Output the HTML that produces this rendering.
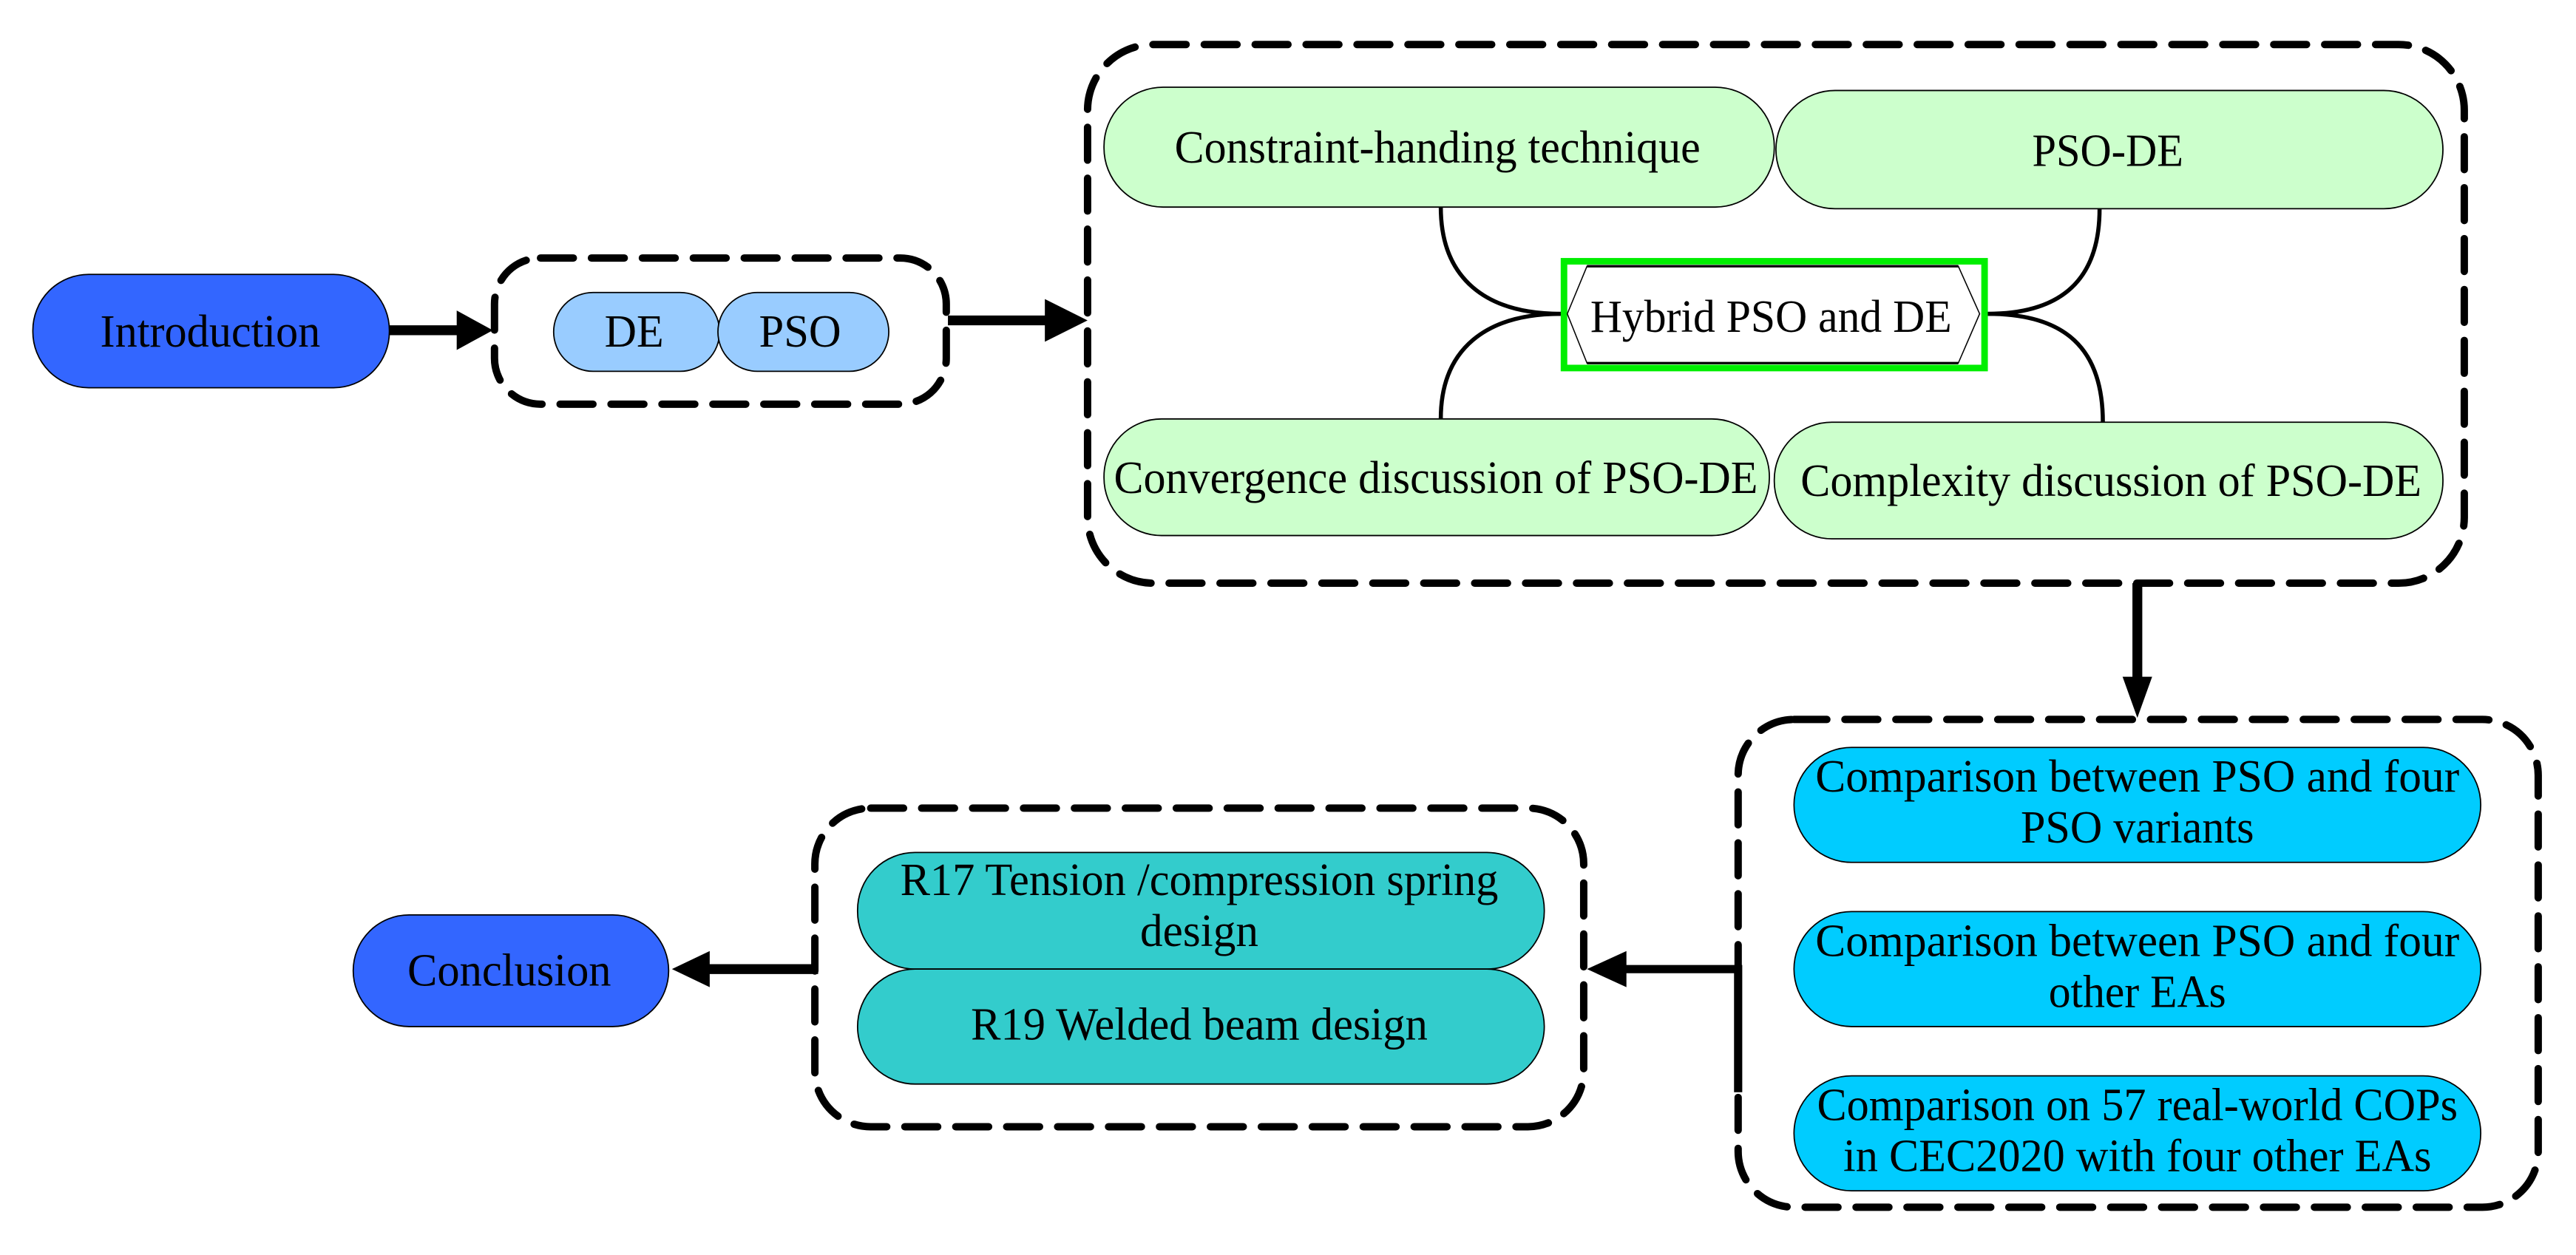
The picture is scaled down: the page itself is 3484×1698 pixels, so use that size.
<!DOCTYPE html>
<html><head><meta charset="utf-8"><style>
html,body{margin:0;padding:0;background:#fff;}
svg{display:block;}
text{font-family:"Liberation Serif",serif;fill:#000;}
</style></head><body>
<svg width="3484" height="1698" viewBox="0 0 1568 764" xmlns="http://www.w3.org/2000/svg">
<g stroke="#000" stroke-width="0.8">
<rect x="20" y="167" width="217" height="69" rx="34" fill="#3366ff"/>
<rect x="337" y="178" width="101" height="48" rx="24" fill="#99ccff"/>
<rect x="437" y="178" width="104" height="48" rx="24" fill="#99ccff"/>
<rect x="672" y="53" width="408" height="73" rx="36" fill="#ccffcc"/>
<rect x="1081" y="55" width="406" height="72" rx="36" fill="#ccffcc"/>
<rect x="672" y="255" width="405" height="71" rx="35" fill="#ccffcc"/>
<rect x="1080" y="257" width="407" height="71" rx="35" fill="#ccffcc"/>
<rect x="1092" y="455" width="418" height="70" rx="35" fill="#00ccff"/>
<rect x="1092" y="555" width="418" height="70" rx="35" fill="#00ccff"/>
<rect x="1092" y="655" width="418" height="70" rx="35" fill="#00ccff"/>
<rect x="522" y="519" width="418" height="71" rx="35" fill="#33cccc"/>
<rect x="522" y="590" width="418" height="70" rx="35" fill="#33cccc"/>
<rect x="215" y="557" width="192" height="68" rx="34" fill="#3366ff"/>
</g>
<g fill="none" stroke="#000" stroke-width="4.5" stroke-dasharray="20 11" stroke-linecap="round">
<rect x="301" y="157" width="275" height="89" rx="28"/>
<rect x="662" y="27" width="838" height="328" rx="40"/>
<rect x="1058" y="438" width="487" height="297" rx="34"/>
<rect x="496" y="492" width="468" height="194" rx="34"/>
</g>
<rect x="952" y="159" width="256" height="65" fill="#fff" stroke="#00ee00" stroke-width="4"/>
<polygon points="966,162 1192,162 1205,191 1192,221 966,221 954,191" fill="#fff" stroke="#000" stroke-width="0.7"/>
<line x1="966" y1="162" x2="1192" y2="162" stroke="#000" stroke-width="1.5"/>
<line x1="966" y1="221" x2="1192" y2="221" stroke="#000" stroke-width="1.5"/>
<g fill="none" stroke="#000" stroke-width="2.5">
<path d="M877,126 C877,170 905,191 950,191"/>
<path d="M877,255 C877,212 905,191 950,191"/>
<path d="M1278,127 C1278,170 1255,191 1210,191"/>
<path d="M1280,257 C1280,212 1257,191 1210,191"/>
</g>
<g stroke="#000" stroke-width="6" fill="none">
<line x1="237" y1="201" x2="280" y2="201"/>
<line x1="577" y1="195" x2="640" y2="195"/>
<line x1="1301" y1="355" x2="1301" y2="415"/>
<polyline points="1058,665 1058,590 985,590" stroke-width="5"/>
<line x1="498" y1="590" x2="430" y2="590"/>
</g>
<g fill="#000">
<polygon points="278,189 300,201 278,213"/>
<polygon points="636,182 662,195 636,208"/>
<polygon points="1292,412 1310,412 1301,437"/>
<polygon points="966,590 990,579 990,601"/>
<polygon points="409,590 432,579 432,601"/>
</g>
<g font-size="28" text-anchor="middle">
<text x="128" y="211" textLength="134" lengthAdjust="spacingAndGlyphs">Introduction</text>
<text x="386" y="211" textLength="36" lengthAdjust="spacingAndGlyphs">DE</text>
<text x="487" y="211" textLength="50" lengthAdjust="spacingAndGlyphs">PSO</text>
<text x="875" y="99" textLength="320" lengthAdjust="spacingAndGlyphs">Constraint-handing technique</text>
<text x="1283" y="101" textLength="92" lengthAdjust="spacingAndGlyphs">PSO-DE</text>
<text x="1078" y="202" textLength="220" lengthAdjust="spacingAndGlyphs">Hybrid PSO and DE</text>
<text x="874" y="300" textLength="392" lengthAdjust="spacingAndGlyphs">Convergence discussion of PSO-DE</text>
<text x="1285" y="302" textLength="378" lengthAdjust="spacingAndGlyphs">Complexity discussion of PSO-DE</text>
<text x="1301" y="482" textLength="392" lengthAdjust="spacingAndGlyphs">Comparison  between PSO and four</text>
<text x="1301" y="513" textLength="142" lengthAdjust="spacingAndGlyphs">PSO variants</text>
<text x="1301" y="582" textLength="392" lengthAdjust="spacingAndGlyphs">Comparison  between PSO and four</text>
<text x="1301" y="613" textLength="108" lengthAdjust="spacingAndGlyphs">other EAs</text>
<text x="1301" y="682" textLength="390" lengthAdjust="spacingAndGlyphs">Comparison on 57 real-world COPs</text>
<text x="1301" y="713" textLength="358" lengthAdjust="spacingAndGlyphs">in CEC2020 with four other EAs</text>
<text x="730" y="545" textLength="364" lengthAdjust="spacingAndGlyphs">R17 Tension /compression spring</text>
<text x="730" y="576" textLength="72" lengthAdjust="spacingAndGlyphs">design</text>
<text x="730" y="633" textLength="278" lengthAdjust="spacingAndGlyphs">R19 Welded beam design</text>
<text x="310" y="600" textLength="124" lengthAdjust="spacingAndGlyphs">Conclusion</text>
</g>
</svg>
</body></html>
